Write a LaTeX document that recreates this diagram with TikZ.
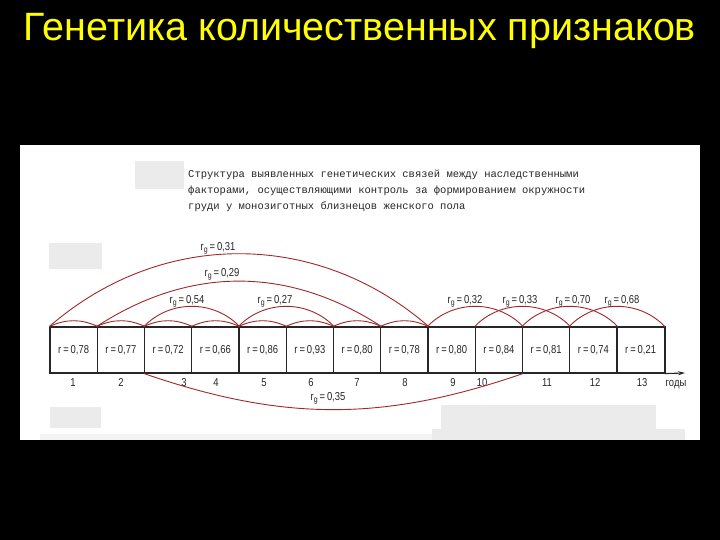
\documentclass[tikz,border=0pt]{standalone}
\usepackage{fontspec}
\setmainfont{Liberation Sans}
\newfontfamily\titlefont{Liberation Sans}
\newfontfamily\scanfont[FakeStretch=0.82]{Liberation Sans}
\newfontfamily\typefont{Liberation Mono}
\usetikzlibrary{arrows.meta}
\definecolor{arcred}{HTML}{A0282D}
\definecolor{ink}{HTML}{262626}
\definecolor{patch}{HTML}{EBEBEB}
\definecolor{titleyellow}{HTML}{FFFF00}
\tikzset{
  cell/.style={draw=ink, line width=1.1pt, minimum width=47.25pt, minimum height=46pt, inner sep=0pt,
    font=\scanfont\fontsize{11.5}{13}\selectfont, text=ink},
  arcline/.style={draw=arcred, line width=0.9pt},
  rglabel/.style={font=\scanfont\fontsize{11.5}{13}\selectfont, text=ink, inner sep=0pt},
  yearlabel/.style={font=\scanfont\fontsize{11.5}{13}\selectfont, text=ink, inner sep=0pt, anchor=base},
  typeline/.style={font=\typefont\fontsize{10.5}{12}\selectfont, text=ink, anchor=west, inner sep=0pt}
}
\newcommand{\rgtext}[1]{r\raisebox{-1.8pt}{\fontsize{8.5}{8.5}\selectfont g}\,=\,#1}
\begin{document}
\begin{tikzpicture}[x=1pt,y=-1pt]
\useasboundingbox (0,0) rectangle (720,540);
\fill[black] (0,0) rectangle (720,540);
\fill[white] (20,145) rectangle (700,440);
% grey patches of the scan
\fill[patch] (135,161) rectangle (184,189);
\fill[patch] (49,243) rectangle (102,269);
\fill[patch] (50,407) rectangle (101,428);
\fill[patch] (441,405) rectangle (656,429);
\fill[patch] (432,429) rectangle (685,440);
\fill[patch!60!white] (40,434) rectangle (432,440);
% title
\node[font=\titlefont\fontsize{39.5}{44}\selectfont, text=titleyellow] (title) at (360,31) {Генетика количественных признаков};
% caption
\node[typeline] (cap1) at (188,175) {Структура выявленных генетических связей между наследственными};
\node[typeline] (cap2) at (188,191) {факторами, осуществляющими контроль за формированием окружности};
\node[typeline] (cap3) at (188,207) {груди у монозиготных близнецов женского пола};
% cells
\foreach \i/\v in {1/{0,78},2/{0,77},3/{0,72},4/{0,66},5/{0,86},6/{0,93},7/{0,80},8/{0,78},9/{0,80},10/{0,84},11/{0,81},12/{0,74},13/{0,21}}
  \node[cell] (b\i) at ({50+(\i-0.5)*47.25},350) {r\,=\,\v};
\draw[ink, line width=2.2pt] (b13.north east) -- (b13.south east);
% axis
\coordinate (axend) at (685,373);
\draw[ink, line width=1.1pt, -{Stealth[length=7pt,width=4pt]}] (b13.south east) -- (axend);
% year labels
\foreach \t/\x in {1/73,2/121,3/184,4/216,5/264,6/311,7/357,8/405,9/453,10/482,11/547,12/595,13/642}
  \node[yearlabel] (y\t) at (\x,386) {\t};
\node[yearlabel] (years) at (676,386) {годы};
% small one-cell arcs
\foreach \i in {1,...,8}
  \draw[arcline] (b\i.north west) to[bend left=24] (b\i.north east);
% two-cell arcs
\draw[arcline] (b3.north west) to[bend left=46] (b4.north east);
\draw[arcline] (b5.north west) to[bend left=46] (b6.north east);
\draw[arcline] (b9.north west) to[bend left=46] (b10.north east);
\draw[arcline] (b10.north west) to[bend left=46] (b11.north east);
\draw[arcline] (b11.north west) to[bend left=46] (b12.north east);
\draw[arcline] (b12.north west) to[bend left=46] (b13.north east);
% long arcs
\draw[arcline] (b1.north west) to[bend left=41] (b8.north east);
\draw[arcline] (b2.north west) to[bend left=33] (b7.north east);
\draw[arcline] (b3.south west) to[bend right=19] (b10.south east);
% rg labels
\node[rglabel] (l31) at (218,248) {\rgtext{0,31}};
\node[rglabel] (l29) at (222,274) {\rgtext{0,29}};
\node[rglabel] (l54) at (187,301) {\rgtext{0,54}};
\node[rglabel] (l27) at (275,301) {\rgtext{0,27}};
\node[rglabel] (l32) at (465,301) {\rgtext{0,32}};
\node[rglabel] (l33) at (520,301) {\rgtext{0,33}};
\node[rglabel] (l70) at (573,301) {\rgtext{0,70}};
\node[rglabel] (l68) at (622,301) {\rgtext{0,68}};
\node[rglabel] (l35) at (328,398) {\rgtext{0,35}};
\end{tikzpicture}
\end{document}
